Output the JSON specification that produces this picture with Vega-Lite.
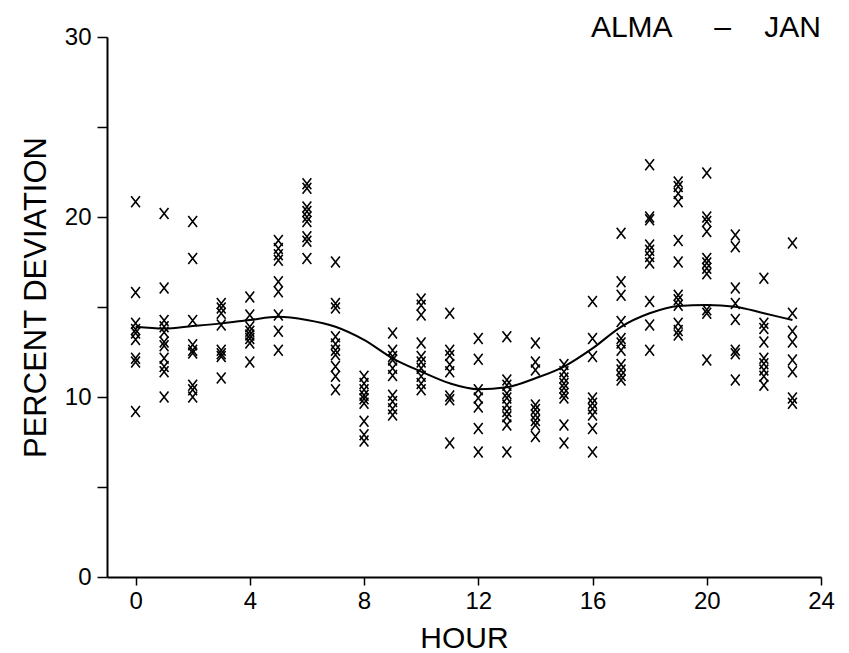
{
  "$schema": "https://vega.github.io/schema/vega-lite/v6.json",
  "width": 714,
  "height": 540,
  "autosize": {"type": "none"},
  "padding": {"left": 107, "top": 37, "right": 28, "bottom": 76},
  "background": "white",
  "config": {"view": {"stroke": null}, "font": "Liberation Sans"},
  "title": {"text": "ALMA\u00a0\u00a0\u00a0\u00a0\u00a0\u2013\u00a0\u00a0\u00a0\u00a0JAN", "anchor": "end", "frame": "group", "fontSize": 30, "fontWeight": "normal", "color": "black", "baseline": "alphabetic", "offset": 0, "dy": 42},
  "datasets": {
    "obs": [
      {"hour":0,"pct":20.85},{"hour":0,"pct":15.8},{"hour":0,"pct":14.1},{"hour":0,"pct":13.75},{"hour":0,"pct":13.55},{"hour":0,"pct":13.2},{"hour":0,"pct":12.15},{"hour":0,"pct":11.95},{"hour":0,"pct":9.2},
      {"hour":1,"pct":20.2},{"hour":1,"pct":16.05},{"hour":1,"pct":14.25},{"hour":1,"pct":13.9},{"hour":1,"pct":13.6},{"hour":1,"pct":13.05},{"hour":1,"pct":12.85},{"hour":1,"pct":12.15},{"hour":1,"pct":11.7},{"hour":1,"pct":11.4},{"hour":1,"pct":10.0},
      {"hour":2,"pct":19.75},{"hour":2,"pct":17.7},{"hour":2,"pct":14.25},{"hour":2,"pct":12.9},{"hour":2,"pct":12.6},{"hour":2,"pct":12.45},{"hour":2,"pct":10.65},{"hour":2,"pct":10.4},{"hour":2,"pct":10.0},
      {"hour":3,"pct":15.2},{"hour":3,"pct":14.95},{"hour":3,"pct":14.65},{"hour":3,"pct":14.0},{"hour":3,"pct":12.6},{"hour":3,"pct":12.4},{"hour":3,"pct":12.25},{"hour":3,"pct":11.05},
      {"hour":4,"pct":15.55},{"hour":4,"pct":14.55},{"hour":4,"pct":13.9},{"hour":4,"pct":13.65},{"hour":4,"pct":13.45},{"hour":4,"pct":13.25},{"hour":4,"pct":13.0},{"hour":4,"pct":11.95},
      {"hour":5,"pct":18.7},{"hour":5,"pct":18.25},{"hour":5,"pct":17.9},{"hour":5,"pct":17.6},{"hour":5,"pct":16.4},{"hour":5,"pct":15.85},{"hour":5,"pct":14.55},{"hour":5,"pct":13.65},{"hour":5,"pct":12.6},
      {"hour":6,"pct":21.85},{"hour":6,"pct":21.6},{"hour":6,"pct":20.55},{"hour":6,"pct":20.3},{"hour":6,"pct":20.0},{"hour":6,"pct":19.75},{"hour":6,"pct":18.9},{"hour":6,"pct":18.65},{"hour":6,"pct":17.7},
      {"hour":7,"pct":17.5},{"hour":7,"pct":15.2},{"hour":7,"pct":14.95},{"hour":7,"pct":13.35},{"hour":7,"pct":12.95},{"hour":7,"pct":12.6},{"hour":7,"pct":12.35},{"hour":7,"pct":11.7},{"hour":7,"pct":11.15},{"hour":7,"pct":10.4},
      {"hour":8,"pct":11.15},{"hour":8,"pct":10.75},{"hour":8,"pct":10.4},{"hour":8,"pct":10.1},{"hour":8,"pct":9.9},{"hour":8,"pct":9.65},{"hour":8,"pct":8.65},{"hour":8,"pct":7.9},{"hour":8,"pct":7.55},
      {"hour":9,"pct":13.55},{"hour":9,"pct":12.6},{"hour":9,"pct":12.25},{"hour":9,"pct":12.05},{"hour":9,"pct":11.6},{"hour":9,"pct":11.2},{"hour":9,"pct":10.1},{"hour":9,"pct":9.75},{"hour":9,"pct":9.35},{"hour":9,"pct":9.0},
      {"hour":10,"pct":15.45},{"hour":10,"pct":15.1},{"hour":10,"pct":14.55},{"hour":10,"pct":13.0},{"hour":10,"pct":12.25},{"hour":10,"pct":11.95},{"hour":10,"pct":11.6},{"hour":10,"pct":11.15},{"hour":10,"pct":10.75},{"hour":10,"pct":10.4},
      {"hour":11,"pct":14.65},{"hour":11,"pct":12.6},{"hour":11,"pct":12.3},{"hour":11,"pct":11.8},{"hour":11,"pct":11.4},{"hour":11,"pct":10.05},{"hour":11,"pct":9.85},{"hour":11,"pct":7.45},
      {"hour":12,"pct":13.25},{"hour":12,"pct":12.1},{"hour":12,"pct":10.4},{"hour":12,"pct":9.95},{"hour":12,"pct":9.45},{"hour":12,"pct":8.25},{"hour":12,"pct":6.95},
      {"hour":13,"pct":13.35},{"hour":13,"pct":10.95},{"hour":13,"pct":10.65},{"hour":13,"pct":10.2},{"hour":13,"pct":9.95},{"hour":13,"pct":9.55},{"hour":13,"pct":9.2},{"hour":13,"pct":8.9},{"hour":13,"pct":8.45},{"hour":13,"pct":6.95},
      {"hour":14,"pct":13.0},{"hour":14,"pct":11.95},{"hour":14,"pct":11.5},{"hour":14,"pct":9.55},{"hour":14,"pct":9.3},{"hour":14,"pct":9.0},{"hour":14,"pct":8.7},{"hour":14,"pct":8.45},{"hour":14,"pct":7.8},
      {"hour":15,"pct":11.8},{"hour":15,"pct":11.4},{"hour":15,"pct":11.05},{"hour":15,"pct":10.75},{"hour":15,"pct":10.5},{"hour":15,"pct":10.2},{"hour":15,"pct":9.95},{"hour":15,"pct":8.45},{"hour":15,"pct":7.45},
      {"hour":16,"pct":15.3},{"hour":16,"pct":13.25},{"hour":16,"pct":12.25},{"hour":16,"pct":9.95},{"hour":16,"pct":9.65},{"hour":16,"pct":9.35},{"hour":16,"pct":9.0},{"hour":16,"pct":8.25},{"hour":16,"pct":6.95},
      {"hour":17,"pct":19.1},{"hour":17,"pct":16.4},{"hour":17,"pct":15.65},{"hour":17,"pct":14.2},{"hour":17,"pct":13.25},{"hour":17,"pct":13.0},{"hour":17,"pct":12.6},{"hour":17,"pct":11.8},{"hour":17,"pct":11.5},{"hour":17,"pct":11.2},{"hour":17,"pct":10.95},
      {"hour":18,"pct":22.9},{"hour":18,"pct":20.0},{"hour":18,"pct":19.85},{"hour":18,"pct":18.45},{"hour":18,"pct":18.15},{"hour":18,"pct":17.8},{"hour":18,"pct":17.45},{"hour":18,"pct":15.3},{"hour":18,"pct":14.0},{"hour":18,"pct":12.6},
      {"hour":19,"pct":21.95},{"hour":19,"pct":21.7},{"hour":19,"pct":21.3},{"hour":19,"pct":20.85},{"hour":19,"pct":18.7},{"hour":19,"pct":17.5},{"hour":19,"pct":15.65},{"hour":19,"pct":15.4},{"hour":19,"pct":15.1},{"hour":19,"pct":14.1},{"hour":19,"pct":13.7},{"hour":19,"pct":13.45},
      {"hour":20,"pct":22.45},{"hour":20,"pct":20.0},{"hour":20,"pct":19.75},{"hour":20,"pct":19.2},{"hour":20,"pct":17.7},{"hour":20,"pct":17.45},{"hour":20,"pct":17.15},{"hour":20,"pct":16.85},{"hour":20,"pct":14.85},{"hour":20,"pct":14.65},{"hour":20,"pct":12.05},
      {"hour":21,"pct":19.0},{"hour":21,"pct":18.35},{"hour":21,"pct":16.05},{"hour":21,"pct":15.2},{"hour":21,"pct":14.3},{"hour":21,"pct":12.6},{"hour":21,"pct":12.4},{"hour":21,"pct":10.95},
      {"hour":22,"pct":16.6},{"hour":22,"pct":14.1},{"hour":22,"pct":13.8},{"hour":22,"pct":13.05},{"hour":22,"pct":12.15},{"hour":22,"pct":11.85},{"hour":22,"pct":11.5},{"hour":22,"pct":11.15},{"hour":22,"pct":10.65},
      {"hour":23,"pct":18.55},{"hour":23,"pct":14.65},{"hour":23,"pct":13.65},{"hour":23,"pct":13.05},{"hour":23,"pct":12.05},{"hour":23,"pct":11.4},{"hour":23,"pct":9.95},{"hour":23,"pct":9.65}
    ],
    "curve": [
      {"hour":0,"pct":13.9},{"hour":1,"pct":13.8},{"hour":2,"pct":13.94},{"hour":3,"pct":14.09},{"hour":4,"pct":14.28},{"hour":5,"pct":14.46},{"hour":6,"pct":14.28},{"hour":7,"pct":13.9},{"hour":8,"pct":13.17},{"hour":9,"pct":12.15},{"hour":10,"pct":11.41},{"hour":11,"pct":10.76},{"hour":12,"pct":10.43},{"hour":13,"pct":10.54},{"hour":14,"pct":11.04},{"hour":15,"pct":11.69},{"hour":16,"pct":12.7},{"hour":17,"pct":13.9},{"hour":18,"pct":14.65},{"hour":19,"pct":15.06},{"hour":20,"pct":15.11},{"hour":21,"pct":15.02},{"hour":22,"pct":14.65},{"hour":23,"pct":14.28}
    ]
  },
  "layer": [
    {
      "data": {"name": "obs"},
      "mark": {"type": "point", "shape": "M-0.8,-1L0.8,1M-0.8,1L0.8,-1", "size": 120, "filled": false, "stroke": "black", "strokeWidth": 1.6, "opacity": 1},
      "encoding": {
        "x": {"field": "hour", "type": "quantitative", "scale": {"domain": [-1, 24], "nice": false, "zero": false},
          "axis": {"values": [0,4,8,12,16,20,24], "title": "HOUR", "grid": false, "domainColor": "black", "domainWidth": 2, "tickColor": "black", "tickWidth": 1.5, "tickSize": 8, "labelFontSize": 24, "labelColor": "black", "labelPadding": 4, "labelFlush": false, "titleFontSize": 30, "titleFontWeight": "normal", "titleColor": "black", "titleBaseline": "alphabetic", "titleY": 70}},
        "y": {"field": "pct", "type": "quantitative", "scale": {"domain": [0, 30], "nice": false},
          "axis": {"values": [0,5,10,15,20,25,30], "labelExpr": "datum.value % 10 === 0 ? datum.label : ''", "title": "PERCENT DEVIATION", "grid": false, "domainColor": "black", "domainWidth": 2, "tickColor": "black", "tickWidth": 1.5, "tickSize": 10, "labelFontSize": 24, "labelColor": "black", "labelPadding": 6, "labelFlush": false, "titleFontSize": 31, "titleFontWeight": "normal", "titleColor": "black", "titleAngle": -90, "titleAlign": "center", "titleBaseline": "alphabetic", "titleX": -62, "titleY": 260}}
      }
    },
    {
      "data": {"name": "curve"},
      "mark": {"type": "line", "color": "black", "strokeWidth": 2, "interpolate": "monotone"},
      "encoding": {
        "x": {"field": "hour", "type": "quantitative"},
        "y": {"field": "pct", "type": "quantitative"}
      }
    }
  ]
}
